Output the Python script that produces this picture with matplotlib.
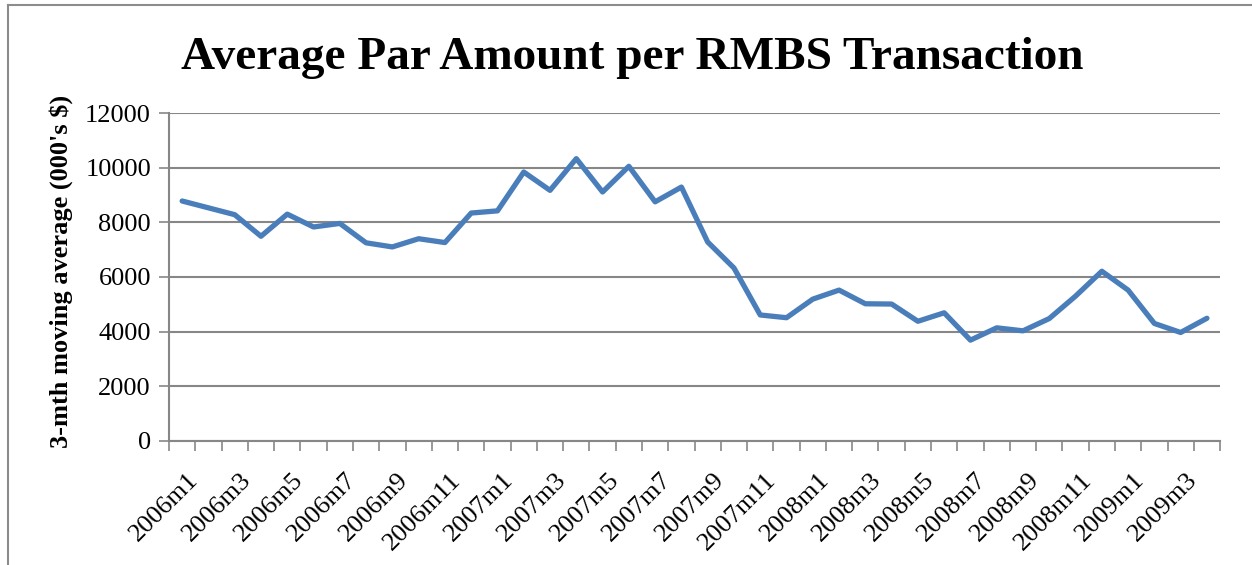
#!/usr/bin/env python3
# Average par amount per RMBS transaction, 3-month moving average, 2006m1-2009m4
import matplotlib; matplotlib.use("Agg")
import matplotlib.pyplot as plt
from matplotlib.lines import Line2D
from matplotlib.transforms import ScaledTranslation

months = [f"{y}m{m}" for y in (2006, 2007, 2008) for m in range(1, 13)] + [f"2009m{m}" for m in range(1, 5)]
par_avg = [8780, 8530, 8280, 7490, 8300, 7830, 7960, 7250, 7100, 7400, 7260, 8340,
           8420, 9840, 9170, 10330, 9110, 10050, 8750, 9290, 7280, 6330, 4610, 4510,
           5190, 5520, 5020, 5010, 4380, 4690, 3690, 4140, 4030, 4480, 5300, 6210,
           5520, 4300, 3970, 4490]
y_ticks = [0, 2000, 4000, 6000, 8000, 10000, 12000]

plt.rcParams["font.family"] = ["Liberation Serif", "DejaVu Serif"]
GRID = "#878787"

fig = plt.figure(figsize=(12.52, 5.65), dpi=100)
ax = fig.add_axes([0.135, 0.2195, 0.8395, 0.5805])
x = list(range(len(months)))
ax.plot(x, par_avg, color="#4A7EBB", lw=3.8, solid_joinstyle="round", solid_capstyle="round", zorder=3)

ax.set_xlim(-0.5, len(months) - 0.5)
ax.set_ylim(0, 12000)
ax.set_yticks(y_ticks)
ax.set_yticklabels([str(v) for v in y_ticks], fontsize=19)
ax.yaxis.grid(True, color=GRID, lw=1.5)
ax.set_axisbelow(True)
ax.tick_params(axis="y", length=7, width=1.2, color=GRID, pad=6)

# category axis: tick marks between categories, labels on every other month
ax.set_xticks([i - 0.5 for i in range(len(months) + 1)], minor=True)
ax.set_xticks(x[::2])
ax.set_xticklabels(months[::2], rotation=45, ha="right", va="top", rotation_mode="anchor", fontsize=19)
ax.tick_params(axis="x", which="major", length=0, pad=20)
ax.tick_params(axis="x", which="minor", length=7, width=1.2, color=GRID)
for lab in ax.get_xticklabels():
    lab.set_transform(lab.get_transform() + ScaledTranslation(0.05, 0, fig.dpi_scale_trans))

for s in ("top", "right"):
    ax.spines[s].set_visible(False)
for s in ("left", "bottom"):
    ax.spines[s].set_color(GRID)
    ax.spines[s].set_linewidth(1.5)

fig.text(0.505, 0.897, "Average Par Amount per RMBS Transaction", ha="center", va="center",
         fontsize=34, fontweight="bold")
fig.text(0.049, 0.52, "3-mth moving average (000's $)", ha="center", va="center",
         rotation=90, fontsize=19, fontweight="bold")

# outer chart border (top and left visible in the crop)
fig.add_artist(Line2D([0.0064, 1.0], [0.991, 0.991], transform=fig.transFigure, color="#8c8c8c", lw=1.5))
fig.add_artist(Line2D([0.0064, 0.0064], [0.0, 0.991], transform=fig.transFigure, color="#8c8c8c", lw=1.5))

fig.savefig("out.png", dpi=100)
